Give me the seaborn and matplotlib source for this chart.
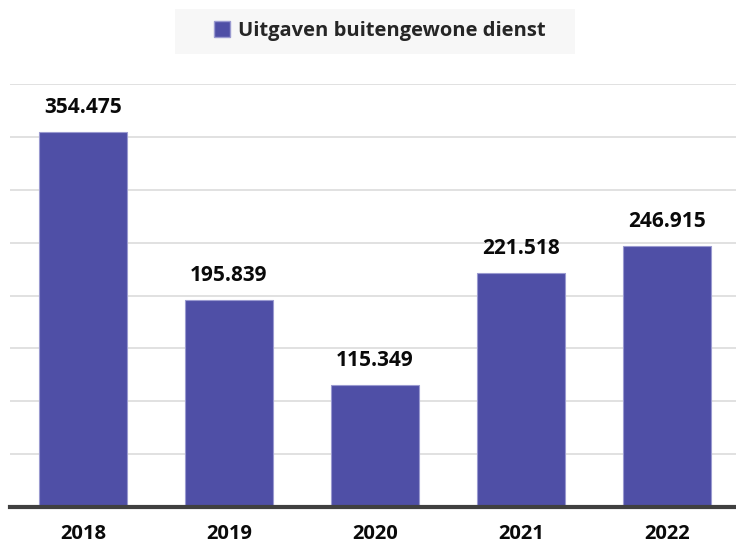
import matplotlib
matplotlib.use("Agg")
import matplotlib.pyplot as plt
import seaborn as sns
import pandas as pd
from matplotlib.patches import Patch

years = ["2018", "2019", "2020", "2021", "2022"]
values = [354475, 195839, 115349, 221518, 246915]
labels = ["354.475", "195.839", "115.349", "221.518", "246.915"]
series_name = "Uitgaven buitengewone dienst"

bar_color = "#4F4FA6"

sns.set_theme(style="white")
plt.rcParams["font.family"] = ["Open Sans", "DejaVu Sans"]

df = pd.DataFrame({"jaar": years, "bedrag": values})

fig = plt.figure(figsize=(7.36, 5.47), dpi=100)
ax = fig.add_axes([10 / 736, 40 / 547, 730 / 736, 423 / 547])

sns.barplot(data=df, x="jaar", y="bedrag", color=bar_color, width=0.6,
            saturation=1, edgecolor="#9A9AD0", linewidth=0.8,
            ax=ax, zorder=2)

ax.set_ylim(0, 400000)
ax.set_xlim(-0.5, 4.5)
ax.set_yticks(range(50000, 400001, 50000))
ax.yaxis.grid(True, color="#808080", linewidth=1.2, alpha=0.28)
for gl in ax.get_ygridlines():
    gl.set_zorder(3)
ax.tick_params(axis="y", left=False, labelleft=False)
ax.tick_params(axis="x", bottom=False, length=0, pad=12, labelsize=14.5)
for t in ax.get_xticklabels():
    t.set_fontweight("bold")
    t.set_color("#0A0A0A")
ax.set_xlabel("")
ax.set_ylabel("")
for s in ["top", "right", "left"]:
    ax.spines[s].set_visible(False)
ax.spines["bottom"].set_color("#404040")
ax.spines["bottom"].set_linewidth(3)
ax.spines["bottom"].set_zorder(5)

for i, (v, lab) in enumerate(zip(values, labels)):
    ax.annotate(lab, (i, v), xytext=(0, 10), textcoords="offset points",
                ha="center", va="bottom", fontsize=15, fontweight="bold",
                color="#0A0A0A")

# legend box across the top
fig.patches.append(plt.Rectangle((175 / 736, 1 - 54 / 547), 400 / 736, 45 / 547,
                                 transform=fig.transFigure, facecolor="#F7F7F7",
                                 edgecolor="none", zorder=0))
leg = fig.legend(handles=[Patch(facecolor=bar_color, edgecolor="#9A9AD0")],
                 labels=[series_name], loc="center",
                 bbox_to_anchor=(380 / 736, 1 - 31 / 547), frameon=False,
                 handlelength=0.8, handleheight=0.8, handletextpad=0.4,
                 prop={"weight": "bold", "size": 14.5})

fig.savefig("out.png", dpi=100, facecolor="white")
